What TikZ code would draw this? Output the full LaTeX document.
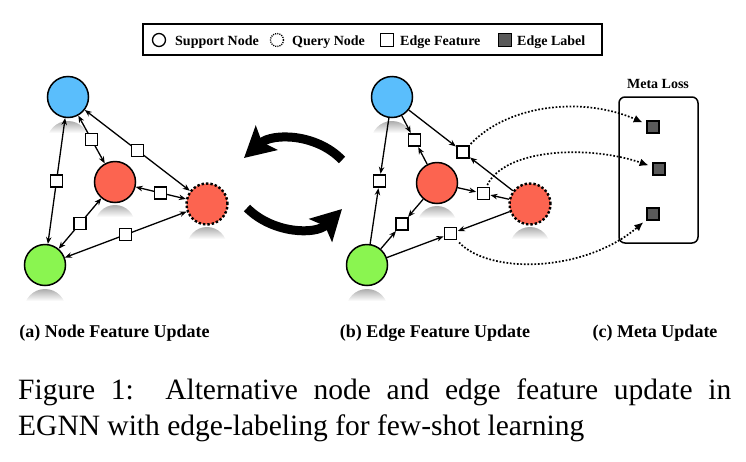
\documentclass[tikz,border=0pt]{standalone}
\usepackage{fontspec}
\setmainfont{Liberation Serif}
\usetikzlibrary{arrows.meta}

\definecolor{nodeblue}{RGB}{90,190,252}
\definecolor{nodered}{RGB}{252,100,80}
\definecolor{nodegreen}{RGB}{138,245,80}
\definecolor{labelgray}{RGB}{90,90,90}

% soft mirrored reflection under a vertex: x, y, radius
\newcommand\mirrorshade[3]{%
  \begin{scope}
    \clip (#1,#2+2*#3+3) circle[radius=#3pt];
    \shade[top color=black!35, bottom color=white]
      (#1-#3,#2+#3+2) rectangle (#1+#3,#2+#3+15);
  \end{scope}}

\tikzset{
  vert/.style={circle, draw=black, line width=1.5pt, minimum size=41pt, inner sep=0pt},
  qvert/.style={vert, dash pattern=on 2.4pt off 2pt, line width=2.4pt},
  efeat/.style={rectangle, draw=black, fill=white, line width=1.2pt, minimum size=12pt, inner sep=0pt},
  elabel/.style={rectangle, draw=black, fill=labelgray, line width=1.2pt, minimum size=12pt, inner sep=0pt},
  link/.style={line width=1.3pt, shorten >=0.6pt, -{Stealth[length=7pt,width=5.5pt]}},
  dlink/.style={line width=1.3pt, {Stealth[length=7pt,width=5.5pt]}-{Stealth[length=7pt,width=5.5pt]}},
  metaarrow/.style={line width=1.7pt, dash pattern=on 1.7pt off 1.8pt, -{Latex[length=9pt,width=8pt]}},
  cyclearrow/.style={line width=9pt, -{Stealth[length=30pt,width=32pt,inset=6pt]}},
  sublbl/.style={font=\bfseries\fontsize{18pt}{20pt}\selectfont, inner sep=0pt, anchor=base},
  legtxt/.style={font=\bfseries\fontsize{14pt}{16pt}\selectfont, inner sep=0pt, anchor=base west},
  captxt/.style={font=\fontsize{29.5pt}{36pt}\selectfont, inner sep=0pt, anchor=base west},
}

\begin{document}
\begin{tikzpicture}[x=1pt,y=-1pt]
\useasboundingbox (0,0) rectangle (746,461);

% ---------- legend ----------
\node[draw=black, line width=2pt, minimum width=459pt, minimum height=31pt, inner sep=0pt] (legend) at (372.5,39.5) {};
\node[circle, draw=black, line width=1.3pt, minimum size=13pt, inner sep=0pt] (lg-supp) at (159,40) {};
\node[legtxt] (lg-supp-t) at (175,45) {Support Node};
\node[circle, draw=black, line width=1.3pt, dash pattern=on 1.1pt off 1.1pt, minimum size=13pt, inner sep=0pt] (lg-query) at (277,40) {};
\node[legtxt] (lg-query-t) at (292,45) {Query Node};
\node[efeat, minimum size=12.5pt] (lg-feat) at (387,40) {};
\node[legtxt] (lg-feat-t) at (400,45) {Edge Feature};
\node[elabel, minimum size=12.5pt] (lg-lab) at (505,40) {};
\node[legtxt] (lg-lab-t) at (517,45) {Edge Label};

% ---------- (a) node feature update ----------
\mirrorshade{68}{97}{21}
\mirrorshade{115}{182}{20}
\mirrorshade{207}{204}{20}
\mirrorshade{45}{265}{21}
\node[vert, fill=nodeblue] (a-s1) at (68,97) {};
\node[vert, fill=nodered] (a-s2) at (115,182) {};
\node[qvert, fill=nodered] (a-q) at (207,204) {};
\node[vert, fill=nodegreen] (a-s3) at (45,265) {};

\draw[dlink] (a-s1) -- (a-s2) node[efeat, pos=.5] (a-e12) {};
\draw[dlink] (a-s1) -- (a-q)  node[efeat, pos=.5] (a-e1q) {};
\draw[dlink] (a-s1) -- (a-s3) node[efeat, pos=.5] (a-e13) {};
\draw[dlink] (a-s2) -- (a-q)  node[efeat, pos=.5] (a-e2q) {};
\draw[dlink] (a-s2) -- (a-s3) node[efeat, pos=.5] (a-e23) {};
\draw[dlink] (a-s3) -- (a-q)  node[efeat, pos=.5] (a-e3q) {};

% ---------- alternation arrows ----------
\coordinate (cyc-t0) at (342,160);
\coordinate (cyc-t1) at (244,158);
\coordinate (cyc-b0) at (247,208);
\coordinate (cyc-b1) at (342,209);
\draw[cyclearrow] (cyc-t0) .. controls (316,133) and (272,133) .. (cyc-t1);
\draw[cyclearrow] (cyc-b0) .. controls (273,234) and (316,235) .. (cyc-b1);

% ---------- (b) edge feature update ----------
\mirrorshade{392}{97}{21}
\mirrorshade{437}{183}{20}
\mirrorshade{530}{204}{20}
\mirrorshade{367}{265}{21}
\node[vert, fill=nodeblue] (b-s1) at (392,97) {};
\node[vert, fill=nodered] (b-s2) at (437,183) {};
\node[qvert, fill=nodered] (b-q) at (530,204) {};
\node[vert, fill=nodegreen] (b-s3) at (367,265) {};

\path (b-s1) -- (b-s2) node[efeat, pos=.5] (b-e12) {};
\path (b-s1) -- (b-q)  node[efeat, pos=.52] (b-e1q) {};
\path (b-s1) -- (b-s3) node[efeat, pos=.5] (b-e13) {};
\path (b-s2) -- (b-q)  node[efeat, pos=.5] (b-e2q) {};
\path (b-s2) -- (b-s3) node[efeat, pos=.5] (b-e23) {};
\path (b-s3) -- (b-q)  node[efeat, pos=.52] (b-e3q) {};

\draw[link] (b-s1) -- (b-e12);
\draw[link] (b-s2) -- (b-e12);
\draw[link] (b-s1) -- (b-e1q);
\draw[link] (b-q)  -- (b-e1q);
\draw[link] (b-s1) -- (b-e13);
\draw[link] (b-s3) -- (b-e13);
\draw[link] (b-s2) -- (b-e2q);
\draw[link] (b-q)  -- (b-e2q);
\draw[link] (b-s2) -- (b-e23);
\draw[link] (b-s3) -- (b-e23);
\draw[link] (b-s3) -- (b-e3q);
\draw[link] (b-q)  -- (b-e3q);

% ---------- (c) meta update ----------
\node[draw=black, line width=1.5pt, rounded corners=6pt, minimum width=79pt, minimum height=146pt, inner sep=0pt] (meta) at (658.5,170) {};
\node[font=\bfseries\fontsize{14pt}{16pt}\selectfont, inner sep=0pt, anchor=base] (meta-t) at (658,88) {Meta Loss};
\node[elabel] (m-l1) at (653,127) {};
\node[elabel] (m-l2) at (659,169) {};
\node[elabel] (m-l3) at (653,214) {};

\draw[metaarrow, shorten <=2pt, shorten >=4pt] (b-e1q) .. controls (510,103) and (585,97) .. (m-l1);
\draw[metaarrow, shorten <=2pt, shorten >=4pt] (b-e2q) .. controls (505,148) and (590,145) .. (m-l2);
\draw[metaarrow, shorten <=3pt, shorten >=4pt] (b-e3q) .. controls (490,275) and (585,272) .. (m-l3);

% ---------- sub-captions ----------
\node[sublbl] (cap-a) at (114.5,337) {(a) Node Feature Update};
\node[sublbl] (cap-b) at (435,337) {(b) Edge Feature Update};
\node[sublbl] (cap-c) at (655,337) {(c) Meta Update};

% ---------- figure caption ----------
\node[captxt] (cap-1) at (18,399) {\makebox[713pt][s]{Figure 1:\ \ Alternative node and edge feature update in}};
\node[captxt] (cap-2) at (18,435) {EGNN with edge-labeling for few-shot learning};
\end{tikzpicture}
\end{document}
